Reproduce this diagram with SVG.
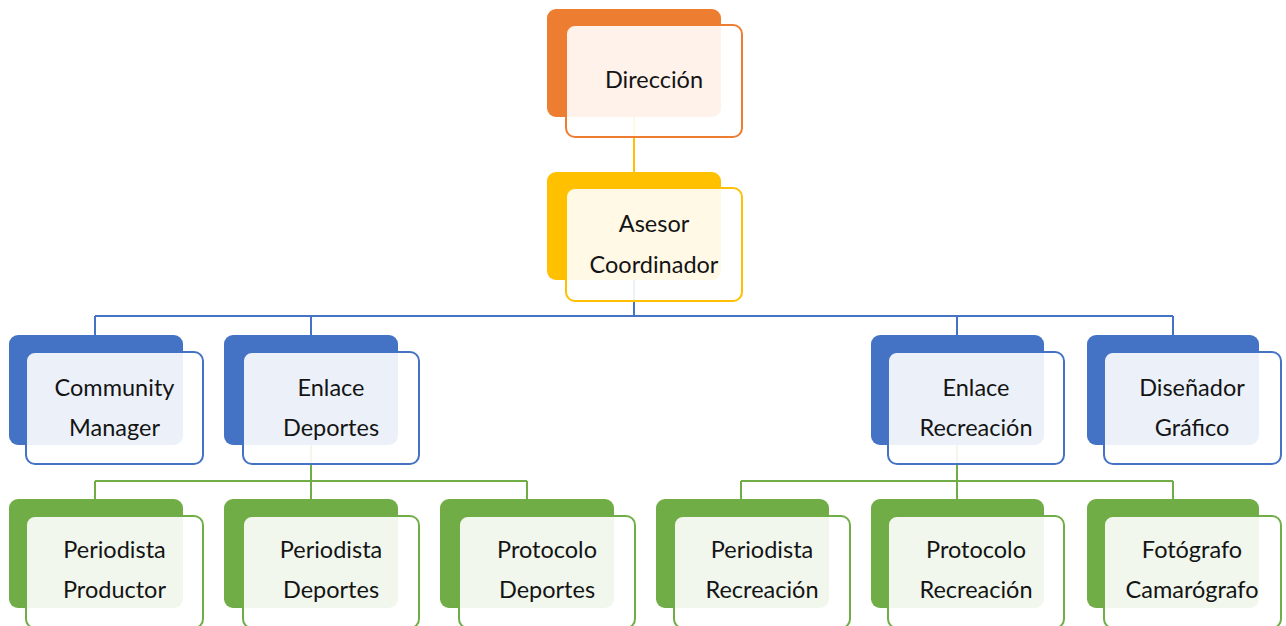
<svg xmlns="http://www.w3.org/2000/svg" width="1286" height="626" viewBox="0 0 1286 626">
<style>
.bk{stroke:none}
.fr{fill:#ffffff;fill-opacity:0.9;stroke-width:2}
.o .bk{fill:#ED7D31}.o .fr{stroke:#ED7D31}
.y .bk{fill:#FFC000}.y .fr{stroke:#FFC000}
.b .bk{fill:#4472C4}.b .fr{stroke:#4472C4}
.g .bk{fill:#70AD47}.g .fr{stroke:#70AD47}
text{font-family:Lato,"Open Sans","Liberation Sans",sans-serif;font-size:23.5px;fill:#141414;text-anchor:middle}
.c{fill:none;stroke-width:2}
</style>
<rect width="1286" height="626" fill="#ffffff"/>
<g id="connectors">
<path class="c" stroke="#FFC000" d="M634 117V172"/>
<path class="c" stroke="#4472C4" d="M634 280V316M95 316H1173M95 316V335M311 316V335M957 316V335M1173 316V335"/>
<path class="c" stroke="#70AD47" d="M311 445V481M95 481H527M95 481V499M311 481V499M527 481V499"/>
<path class="c" stroke="#70AD47" d="M957 445V481M741 481H1173M741 481V499M957 481V499M1173 481V499"/>
</g>
<g id="n-direccion" class="o">
<rect class="bk" x="547" y="9" width="174" height="108" rx="9"/>
<rect class="fr" x="566" y="25" width="176" height="112" rx="9"/>
<text x="654" y="88">Dirección</text>
</g>
<g id="n-asesor" class="y">
<rect class="bk" x="547" y="172" width="174" height="108" rx="9"/>
<rect class="fr" x="566" y="188" width="176" height="113" rx="9"/>
<text x="654" y="232">Asesor</text>
<text x="654" y="273">Coordinador</text>
</g>
<g id="n-community" class="b">
<rect class="bk" x="9" y="335" width="174" height="110" rx="9"/>
<rect class="fr" x="26" y="352" width="177" height="112" rx="9"/>
<text x="114.5" y="396">Community</text>
<text x="114.5" y="436">Manager</text>
</g>
<g id="n-enlace-deportes" class="b">
<rect class="bk" x="224" y="335" width="174" height="110" rx="9"/>
<rect class="fr" x="243" y="352" width="176" height="112" rx="9"/>
<text x="331" y="396">Enlace</text>
<text x="331" y="436">Deportes</text>
</g>
<g id="n-enlace-recreacion" class="b">
<rect class="bk" x="871" y="335" width="173" height="110" rx="9"/>
<rect class="fr" x="888" y="352" width="176" height="112" rx="9"/>
<text x="976" y="396">Enlace</text>
<text x="976" y="436">Recreación</text>
</g>
<g id="n-disenador" class="b">
<rect class="bk" x="1087" y="335" width="172" height="110" rx="9"/>
<rect class="fr" x="1104" y="352" width="177" height="112" rx="9"/>
<text x="1192" y="396">Diseñador</text>
<text x="1192" y="436">Gráfico</text>
</g>
<g id="n-periodista-productor" class="g">
<rect class="bk" x="9" y="499" width="174" height="109" rx="9"/>
<rect class="fr" x="26" y="516" width="177" height="112" rx="9"/>
<text x="114.5" y="558">Periodista</text>
<text x="114.5" y="598">Productor</text>
</g>
<g id="n-periodista-deportes" class="g">
<rect class="bk" x="224" y="499" width="174" height="109" rx="9"/>
<rect class="fr" x="243" y="516" width="176" height="112" rx="9"/>
<text x="331" y="558">Periodista</text>
<text x="331" y="598">Deportes</text>
</g>
<g id="n-protocolo-deportes" class="g">
<rect class="bk" x="440" y="499" width="174" height="109" rx="9"/>
<rect class="fr" x="459" y="516" width="176" height="112" rx="9"/>
<text x="547" y="558">Protocolo</text>
<text x="547" y="598">Deportes</text>
</g>
<g id="n-periodista-recreacion" class="g">
<rect class="bk" x="656" y="499" width="173" height="109" rx="9"/>
<rect class="fr" x="674" y="516" width="176" height="112" rx="9"/>
<text x="762" y="558">Periodista</text>
<text x="762" y="598">Recreación</text>
</g>
<g id="n-protocolo-recreacion" class="g">
<rect class="bk" x="871" y="499" width="173" height="109" rx="9"/>
<rect class="fr" x="888" y="516" width="176" height="112" rx="9"/>
<text x="976" y="558">Protocolo</text>
<text x="976" y="598">Recreación</text>
</g>
<g id="n-fotografo" class="g">
<rect class="bk" x="1087" y="499" width="172" height="109" rx="9"/>
<rect class="fr" x="1104" y="516" width="177" height="112" rx="9"/>
<text x="1192" y="558">Fotógrafo</text>
<text x="1192" y="598">Camarógrafo</text>
</g>
</svg>
